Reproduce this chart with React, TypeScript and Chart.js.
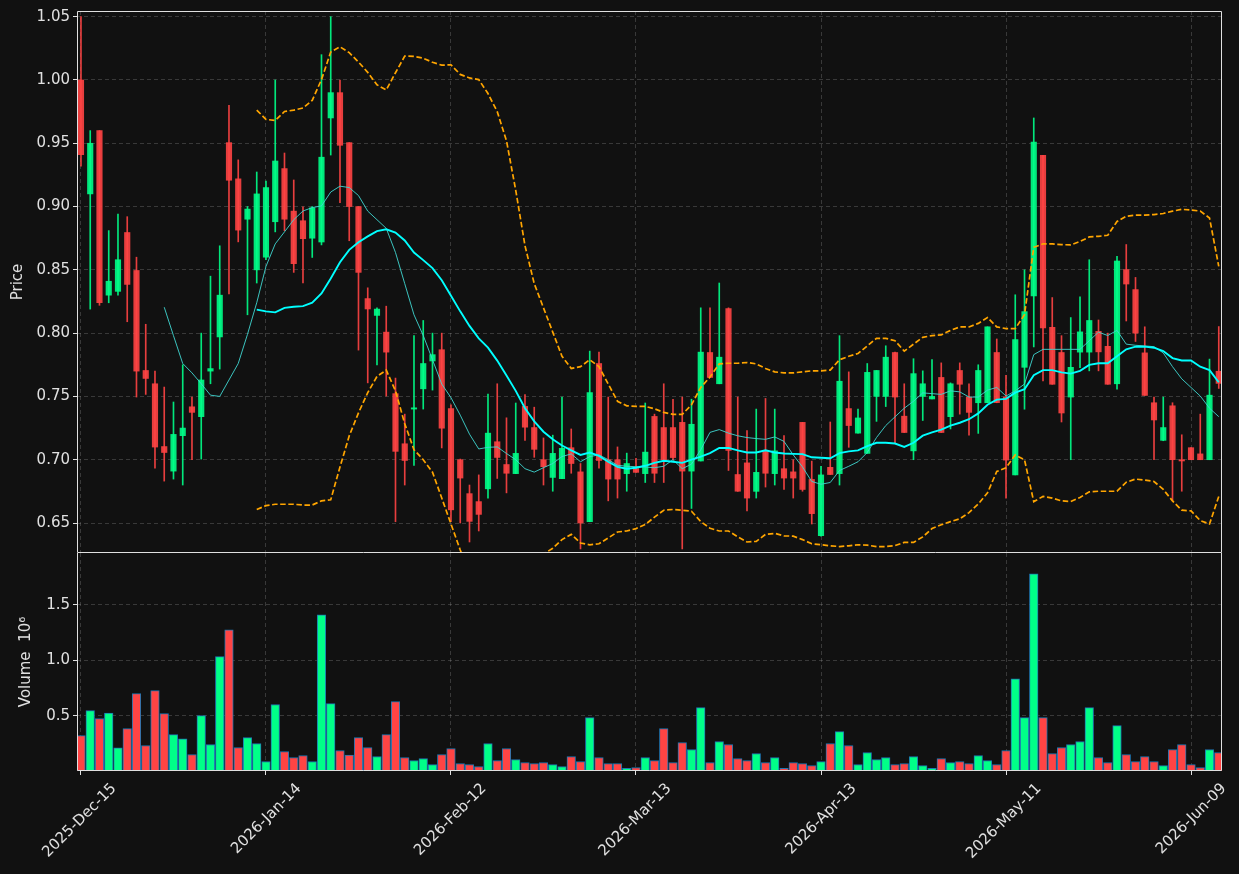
import React, { useEffect, useRef } from "react";
import { Chart, registerables } from "chart.js";
Chart.register(...registerables);

// ---------- data ----------
const tickIndex = [0, 20, 40, 60, 80, 100, 120];
const tickLabels = ["2025-Dec-15", "2026-Jan-14", "2026-Feb-12", "2026-Mar-13", "2026-Apr-13", "2026-May-11", "2026-Jun-09"];

const opens = [
  1.000, 0.910, 0.960, 0.830, 0.833, 0.8795, 0.8495, 0.7705, 0.760, 0.7104,
  0.691, 0.719, 0.7418, 0.734, 0.770, 0.797, 0.9505, 0.9219, 0.890, 0.850,
  0.860, 0.888, 0.930, 0.8964, 0.8888, 0.875, 0.872, 0.970, 0.990, 0.9505,
  0.900, 0.8273, 0.814, 0.8008, 0.7522, 0.7126, 0.740, 0.756, 0.778, 0.7869,
  0.7404, 0.700, 0.6732, 0.6669, 0.677, 0.7142, 0.6962, 0.689, 0.7421, 0.7254,
  0.700, 0.686, 0.685, 0.7095, 0.6904, 0.651, 0.776, 0.700, 0.700, 0.689,
  0.693, 0.689, 0.7342, 0.7254, 0.7254, 0.7295, 0.691, 0.699, 0.7847, 0.760,
  0.8194, 0.6883, 0.6975, 0.675, 0.7071, 0.689, 0.6929, 0.6904, 0.7295, 0.6844,
  0.640, 0.694, 0.689, 0.7404, 0.721, 0.705, 0.750, 0.750, 0.7847, 0.7344,
  0.707, 0.750, 0.748, 0.765, 0.734, 0.7705, 0.7495, 0.745, 0.745, 0.7847,
  0.7495, 0.688, 0.773, 0.8295, 0.9404, 0.8046, 0.7847, 0.7495, 0.785, 0.785,
  0.8014, 0.7896, 0.760, 0.8502, 0.8344, 0.7844, 0.745, 0.7153, 0.7426, 0.700,
  0.7095, 0.7046, 0.700, 0.7699,
];
const highs = [
  1.050, 0.960, 0.960, 0.881, 0.894, 0.892, 0.860, 0.807, 0.770, 0.7574,
  0.7456, 0.775, 0.7495, 0.800, 0.845, 0.869, 0.980, 0.9369, 0.900, 0.9273,
  0.9202, 1.000, 0.9423, 0.921, 0.8997, 0.900, 1.020, 1.050, 1.000, 0.9505,
  0.900, 0.8358, 0.820, 0.8213, 0.7645, 0.736, 0.798, 0.810, 0.800, 0.800,
  0.7434, 0.7005, 0.680, 0.688, 0.7519, 0.760, 0.7331, 0.7448, 0.7514, 0.7415,
  0.7172, 0.7194, 0.7495, 0.7243, 0.697, 0.7858, 0.785, 0.7495, 0.7101, 0.7052,
  0.701, 0.7448, 0.736, 0.760, 0.7478, 0.7495, 0.7478, 0.820, 0.820, 0.8396,
  0.820, 0.7495, 0.723, 0.740, 0.7484, 0.740, 0.719, 0.700, 0.7295, 0.6989,
  0.6948, 0.7298, 0.798, 0.7694, 0.740, 0.776, 0.7705, 0.790, 0.785, 0.760,
  0.7798, 0.7702, 0.7792, 0.7765, 0.7607, 0.7765, 0.760, 0.775, 0.805, 0.7954,
  0.7667, 0.8303, 0.850, 0.970, 0.9404, 0.8281, 0.798, 0.8123, 0.8287, 0.858,
  0.8104, 0.800, 0.8607, 0.870, 0.844, 0.805, 0.7495, 0.7495, 0.745, 0.7197,
  0.7095, 0.736, 0.7795, 0.8052,
];
const lows = [
  0.932, 0.819, 0.822, 0.824, 0.830, 0.809, 0.7495, 0.7516, 0.6934, 0.6831,
  0.6847, 0.680, 0.700, 0.7005, 0.760, 0.7716, 0.831, 0.8721, 0.8145, 0.8396,
  0.858, 0.880, 0.8809, 0.848, 0.8396, 0.8598, 0.8697, 0.9407, 0.903, 0.873,
  0.7866, 0.7607, 0.7749, 0.7503, 0.651, 0.680, 0.6954, 0.740, 0.755, 0.7093,
  0.651, 0.650, 0.635, 0.6437, 0.6697, 0.6852, 0.6738, 0.689, 0.7153, 0.7019,
  0.680, 0.6751, 0.685, 0.6893, 0.6295, 0.651, 0.6934, 0.6675, 0.6697, 0.6751,
  0.690, 0.682, 0.682, 0.682, 0.700, 0.6295, 0.6615, 0.699, 0.765, 0.760,
  0.6915, 0.675, 0.6596, 0.6697, 0.6784, 0.680, 0.6765, 0.6697, 0.6751, 0.6492,
  0.6396, 0.6883, 0.680, 0.7098, 0.721, 0.705, 0.7303, 0.742, 0.7134, 0.7215,
  0.700, 0.731, 0.748, 0.7215, 0.7243, 0.736, 0.7194, 0.7208, 0.745, 0.745,
  0.6697, 0.688, 0.7399, 0.7891, 0.7623, 0.7596, 0.7298, 0.700, 0.7727, 0.7702,
  0.7702, 0.7596, 0.7557, 0.8096, 0.7934, 0.7508, 0.700, 0.715, 0.6675, 0.6751,
  0.700, 0.700, 0.700, 0.7563,
];
const closes = [
  0.941, 0.950, 0.824, 0.841, 0.858, 0.8385, 0.770, 0.7642, 0.710, 0.7057,
  0.720, 0.725, 0.7374, 0.763, 0.772, 0.830, 0.9208, 0.8814, 0.898, 0.910,
  0.915, 0.936, 0.890, 0.8549, 0.8746, 0.899, 0.939, 0.990, 0.9484, 0.900,
  0.848, 0.8191, 0.819, 0.785, 0.7066, 0.6994, 0.741, 0.776, 0.783, 0.7249,
  0.6604, 0.6855, 0.6513, 0.6568, 0.721, 0.7018, 0.6893, 0.705, 0.7257, 0.7082,
  0.6945, 0.705, 0.709, 0.697, 0.650, 0.753, 0.6994, 0.6847, 0.6847, 0.697,
  0.690, 0.706, 0.6893, 0.700, 0.7017, 0.691, 0.728, 0.785, 0.765, 0.781,
  0.7074, 0.6751, 0.6697, 0.690, 0.6893, 0.707, 0.6855, 0.6855, 0.6765, 0.6574,
  0.688, 0.6883, 0.762, 0.727, 0.733, 0.769, 0.7705, 0.781, 0.7495, 0.7215,
  0.768, 0.760, 0.750, 0.7215, 0.760, 0.7596, 0.7374, 0.7705, 0.805, 0.7451,
  0.6997, 0.795, 0.817, 0.951, 0.8041, 0.7596, 0.7369, 0.773, 0.801, 0.810,
  0.7852, 0.7596, 0.857, 0.8388, 0.800, 0.7508, 0.7314, 0.7254, 0.700, 0.699,
  0.700, 0.700, 0.751, 0.7603,
];
// volume in millions
const volumes = [
  0.32, 0.545, 0.473, 0.524, 0.209, 0.383, 0.698, 0.230, 0.725, 0.518,
  0.329, 0.290, 0.149, 0.50, 0.239, 1.032, 1.275, 0.212, 0.302, 0.248,
  0.086, 0.60, 0.176, 0.122, 0.140, 0.086, 1.41, 0.608, 0.185, 0.143,
  0.302, 0.212, 0.131, 0.329, 0.626, 0.122, 0.095, 0.113, 0.059, 0.149,
  0.203, 0.068, 0.059, 0.041, 0.248, 0.095, 0.203, 0.104, 0.077, 0.068,
  0.077, 0.059, 0.041, 0.131, 0.086, 0.482, 0.122, 0.068, 0.068, 0.023,
  0.032, 0.122, 0.095, 0.383, 0.077, 0.257, 0.194, 0.572, 0.077, 0.266,
  0.239, 0.113, 0.095, 0.158, 0.077, 0.122, 0.023, 0.077, 0.068, 0.050,
  0.086, 0.248, 0.356, 0.230, 0.059, 0.167, 0.104, 0.122, 0.059, 0.068,
  0.131, 0.050, 0.023, 0.113, 0.077, 0.086, 0.068, 0.140, 0.095, 0.059,
  0.185, 0.833, 0.482, 1.779, 0.482, 0.158, 0.212, 0.239, 0.266, 0.572,
  0.122, 0.077, 0.41, 0.149, 0.086, 0.131, 0.086, 0.050, 0.194, 0.239,
  0.059, 0.032, 0.194, 0.167,
];

// short moving average (starts at bar 9)
const ma10Start = 9;
const ma10 = [
  0.8205, 0.798, 0.776, 0.7686, 0.760, 0.751, 0.750, 0.763, 0.776, 0.799,
  0.824, 0.8527, 0.8705, 0.880, 0.8896, 0.8965, 0.8992, 0.9005, 0.9115, 0.9161,
  0.915, 0.9087, 0.8964, 0.8896, 0.8828, 0.8637, 0.8391, 0.8145, 0.7981, 0.779,
  0.7598, 0.749, 0.7352, 0.7202, 0.7085, 0.7098, 0.7101, 0.7049, 0.700, 0.6929,
  0.6902, 0.6937, 0.697, 0.7025, 0.7046, 0.6984, 0.7025, 0.7038, 0.700, 0.6956,
  0.6948, 0.6945, 0.6942, 0.6937, 0.6948, 0.700, 0.6929, 0.6965, 0.7079, 0.7216,
  0.7238, 0.721, 0.7189, 0.7175, 0.7167, 0.7161, 0.718, 0.7145, 0.7038, 0.6943,
  0.6828, 0.6806, 0.682, 0.6915, 0.6948, 0.6984, 0.7057, 0.7175, 0.727, 0.7339,
  0.7407, 0.7462, 0.7528, 0.7522, 0.7516, 0.7544, 0.7536, 0.7495, 0.7495, 0.755,
  0.7571, 0.7503, 0.7544, 0.7598, 0.783, 0.7872, 0.7872, 0.7872, 0.7872, 0.7872,
  0.794, 0.8008, 0.7981, 0.8022, 0.7913, 0.7904, 0.7899, 0.7893, 0.7844, 0.7735,
  0.7639, 0.7571, 0.7503, 0.7407, 0.734,
];
// long moving average and bands (start at bar 19)
const bandStart = 19;
const ma20 = [
  0.8186, 0.8172, 0.8164, 0.820, 0.8208, 0.8213, 0.824, 0.8314, 0.8432, 0.856,
  0.8658, 0.8718, 0.8764, 0.8806, 0.882, 0.8795, 0.8732, 0.8637, 0.8577, 0.8514,
  0.8418, 0.8295, 0.8172, 0.8057, 0.7959, 0.7885, 0.7783, 0.7666, 0.7544, 0.7407,
  0.7303, 0.7221, 0.7161, 0.7112, 0.7074, 0.7038, 0.7057, 0.703, 0.6984, 0.6943,
  0.6929, 0.6937, 0.6952, 0.6975, 0.6992, 0.6984, 0.6975, 0.700, 0.7025, 0.7052,
  0.7093, 0.7093, 0.7074, 0.7057, 0.7057, 0.7074, 0.7057, 0.7049, 0.7046, 0.7044,
  0.7019, 0.7016, 0.7011, 0.7052, 0.7066, 0.7074, 0.7107, 0.7134, 0.7134, 0.7128,
  0.7101, 0.7134, 0.719, 0.7216, 0.7238, 0.727, 0.7292, 0.732, 0.7366, 0.7434,
  0.7475, 0.7481, 0.753, 0.7557, 0.7667, 0.7708, 0.7708, 0.769, 0.768, 0.7702,
  0.7749, 0.7762, 0.7762, 0.7817, 0.7872, 0.7893, 0.7893, 0.7885, 0.7858, 0.7803,
  0.7784, 0.7784, 0.7735, 0.7708, 0.7612,
];
const bbUpper = [
  0.9762, 0.9689, 0.968, 0.9751, 0.9762, 0.9779, 0.9839, 1.0003, 1.0221, 1.0262,
  1.0216, 1.0142, 1.006, 0.9962, 0.9921, 1.0057, 1.0189, 1.0186, 1.0172, 1.014,
  1.0117, 1.012, 1.0044, 1.0016, 1.0003, 0.9893, 0.975, 0.952, 0.9128, 0.8691,
  0.8391, 0.820, 0.8008, 0.7817, 0.7721, 0.7735, 0.779, 0.7735, 0.7598, 0.7462,
  0.7426, 0.7421, 0.7421, 0.7402, 0.7374, 0.7358, 0.7358, 0.7434, 0.7571, 0.7653,
  0.7757, 0.7762, 0.7762, 0.7768, 0.7757, 0.7721, 0.7694, 0.7686, 0.7686, 0.7694,
  0.7702, 0.7702, 0.7708, 0.779, 0.7817, 0.7839, 0.7899, 0.7959, 0.7959, 0.794,
  0.7858, 0.7913, 0.7967, 0.7981, 0.7986, 0.8022, 0.8049, 0.8049, 0.8077, 0.8123,
  0.8049, 0.8036, 0.8036, 0.8145, 0.8678, 0.8705, 0.8705, 0.8699, 0.8697, 0.8724,
  0.876, 0.8765, 0.8773, 0.8882, 0.8923, 0.8932, 0.8932, 0.8937, 0.8945, 0.8964,
  0.8978, 0.8973, 0.8964, 0.891, 0.8527,
];
const bbLower = [
  0.6607, 0.6637, 0.6648, 0.6648, 0.6648, 0.6642, 0.6642, 0.6675, 0.6683, 0.6943,
  0.7189, 0.737, 0.753, 0.7658, 0.7708, 0.7544, 0.7284, 0.7079, 0.700, 0.6902,
  0.6697, 0.6492, 0.6287, 0.6098, 0.5915, 0.5877, 0.580, 0.580, 0.596, 0.6123,
  0.6215, 0.6254, 0.630, 0.6369, 0.641, 0.6342, 0.6328, 0.6336, 0.6382, 0.6429,
  0.6437, 0.6456, 0.6488, 0.6546, 0.6601, 0.6607, 0.6601, 0.6593, 0.6511, 0.6459,
  0.6437, 0.6437, 0.6391, 0.635, 0.6355, 0.641, 0.6418, 0.6399, 0.6396, 0.6369,
  0.6336, 0.6328, 0.632, 0.6314, 0.632, 0.6328, 0.6325, 0.6314, 0.6314, 0.6322,
  0.6347, 0.6347, 0.639, 0.6456, 0.6486, 0.6511, 0.6533, 0.6582, 0.665, 0.6738,
  0.6907, 0.6937, 0.7038, 0.700, 0.6669, 0.671, 0.6697, 0.6675, 0.6669, 0.6702,
  0.6746, 0.6751, 0.6751, 0.6751, 0.6822, 0.6847, 0.6839, 0.6828, 0.6765, 0.6675,
  0.6601, 0.6596, 0.6519, 0.6492, 0.671,
];

const priceTicks = [0.65, 0.70, 0.75, 0.80, 0.85, 0.90, 0.95, 1.00, 1.05];
const volumeTicks = [0.5, 1.0, 1.5];

// ---------- styles ----------
const BG = "#111111";
const FG = "#e0e0e0";
const GRID = "rgba(255,255,255,0.17)";
const UP = "rgba(0,255,136,0.9)";
const DOWN = "rgba(255,68,68,0.9)";
const UP_VOL = "#00ff88";
const DOWN_VOL = "#ff4444";
const FONT = { family: "'DejaVu Sans', sans-serif", size: 15 };
const X_MIN = -0.43;
const X_MAX = 123.35;

function makeFrame(skipTop: boolean) {
  return {
    id: "frame",
    afterDraw(chart: any) {
      const { ctx, chartArea: a } = chart;
      ctx.save();
      ctx.strokeStyle = FG;
      ctx.lineWidth = 1;
      const l = Math.round(a.left) + 0.5;
      const t = Math.round(a.top) + 0.5;
      const r = Math.round(a.right) - 0.5;
      const b = Math.round(a.bottom) - 0.5;
      ctx.beginPath();
      ctx.moveTo(l, skipTop ? t - 1 : t);
      ctx.lineTo(l, b);
      ctx.lineTo(r, b);
      ctx.lineTo(r, skipTop ? t - 1 : t);
      if (!skipTop) ctx.lineTo(l, t);
      ctx.stroke();
      ctx.restore();
    },
  };
}

const pts = (arr: number[], start: number) => arr.map((y, i) => ({ x: start + i, y }));

function xScale(showLabels: boolean, height: number) {
  return {
    type: "linear",
    min: X_MIN,
    max: X_MAX,
    offset: false,
    afterBuildTicks: (s: any) => {
      s.ticks = tickIndex.map((v) => ({ value: v }));
    },
    afterFit: (s: any) => {
      s.height = height;
      s.paddingLeft = 0;
      s.paddingRight = 0;
    },
    ticks: {
      display: showLabels,
      color: FG,
      font: FONT,
      maxRotation: 45,
      minRotation: 45,
      autoSkip: false,
      padding: 5,
      labelOffset: 33,
      callback: (v: any) => {
        const i = tickIndex.indexOf(Number(v));
        return i >= 0 ? tickLabels[i] : "";
      },
    },
    grid: {
      color: GRID,
      lineWidth: 1,
      offset: false,
      drawTicks: showLabels,
      tickLength: 4,
      tickColor: FG,
      tickWidth: 1,
      tickBorderDash: [],
    },
    border: { display: false, dash: [4, 3] },
  };
}

function yScale(min: number, max: number, ticks: number[], digits: number, title: string, titlePad: number) {
  return {
    type: "linear",
    position: "left",
    min,
    max,
    afterBuildTicks: (s: any) => {
      s.ticks = ticks.map((v) => ({ value: v }));
    },
    afterFit: (s: any) => {
      s.width = 77;
      s.paddingTop = 0;
      s.paddingBottom = 0;
    },
    ticks: {
      color: FG,
      font: FONT,
      padding: 3,
      callback: (v: any) => Number(v).toFixed(digits),
    },
    grid: {
      color: GRID,
      lineWidth: 1,
      drawTicks: true,
      tickLength: 4,
      tickColor: FG,
      tickWidth: 1,
      tickBorderDash: [],
    },
    border: { display: false, dash: [4, 3] },
    title: {
      display: true,
      text: title,
      color: FG,
      font: FONT,
      padding: { top: titlePad, bottom: 0 },
    },
  };
}

export default function App() {
  const priceRef = useRef<HTMLCanvasElement | null>(null);
  const volRef = useRef<HTMLCanvasElement | null>(null);

  useEffect(() => {
    const up = closes.map((c, i) => c >= opens[i]);
    const candleColors = up.map((u) => (u ? UP : DOWN));
    const volColors = up.map((u) => (u ? UP_VOL : DOWN_VOL));

    const bodies = opens.map((o, i) => ({ x: i, y: [o, closes[i]] }));
    const wicks = lows.map((l, i) => ({ x: i, y: [l, highs[i]] }));
    const vols = volumes.map((v, i) => ({ x: i, y: v }));

    const lineBase = { type: "line", pointRadius: 0, tension: 0, fill: false, order: 0 };

    const price = new Chart(priceRef.current as HTMLCanvasElement, {
      type: "bar",
      data: {
        datasets: [
          { ...lineBase, data: pts(bbUpper, bandStart), borderColor: "#ffa500", borderWidth: 1.7, borderDash: [5.5, 2.6] },
          { ...lineBase, data: pts(bbLower, bandStart), borderColor: "#ffa500", borderWidth: 1.7, borderDash: [5.5, 2.6] },
          { ...lineBase, data: pts(ma20, bandStart), borderColor: "#00ffff", borderWidth: 1.9 },
          { ...lineBase, data: pts(ma10, ma10Start), borderColor: "rgba(64,215,210,0.9)", borderWidth: 1 },
          { type: "bar", data: bodies, backgroundColor: candleColors, barThickness: 5.5, grouped: false, order: 1, borderWidth: 0 },
          { type: "bar", data: wicks, backgroundColor: candleColors, barThickness: 1, grouped: false, order: 2, borderWidth: 0 },
        ],
      } as any,
      options: {
        responsive: false,
        animation: false,
        events: [],
        layout: { padding: { top: 11, right: 17, bottom: 1, left: 0 } },
        plugins: { legend: { display: false }, tooltip: { enabled: false } },
        scales: {
          x: xScale(false, 0),
          y: yScale(0.6263, 1.0545, priceTicks, 2, "Price", 9),
        },
      } as any,
      plugins: [makeFrame(false)],
    });

    const volume = new Chart(volRef.current as HTMLCanvasElement, {
      type: "bar",
      data: {
        datasets: [
          {
            data: vols,
            backgroundColor: volColors,
            borderColor: "#1f77b4",
            borderWidth: 1,
            barThickness: 8.6,
            grouped: false,
          },
        ],
      } as any,
      options: {
        responsive: false,
        animation: false,
        events: [],
        layout: { padding: { top: 0, right: 17, bottom: 0, left: 0 } },
        plugins: { legend: { display: false }, tooltip: { enabled: false } },
        scales: {
          x: xScale(true, 103),
          y: yScale(0, 1.968, volumeTicks, 1, "Volume  10\u2076", 17),
        },
      } as any,
      plugins: [makeFrame(true)],
    });

    return () => {
      price.destroy();
      volume.destroy();
    };
  }, []);

  return (
    <div
      style={{
        position: "fixed",
        left: 0,
        top: 0,
        width: 1239,
        height: 874,
        background: BG,
        overflow: "hidden",
      }}
    >
      <canvas ref={priceRef} width={1239} height={554} style={{ position: "absolute", left: 0, top: 0 }} />
      <canvas ref={volRef} width={1239} height={321} style={{ position: "absolute", left: 0, top: 553 }} />
    </div>
  );
}
